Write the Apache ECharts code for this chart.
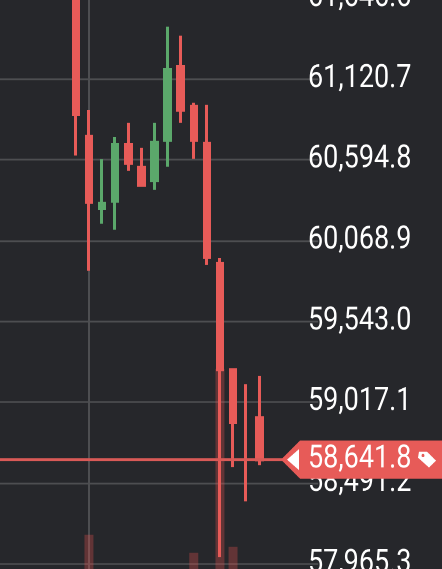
<!DOCTYPE html>
<html>
<head>
<meta charset="utf-8">
<style>
html,body{margin:0;padding:0;background:#26272b;overflow:hidden;width:442px;height:569px}
#c{width:442px;height:474.17px;transform:scaleY(1.2);transform-origin:0 0}
</style>
<script src="https://cdn.jsdelivr.net/npm/echarts@6/dist/echarts.min.js"></script>
</head>
<body>
<div id="c"></div>
<script>
var categories = ['c0','c1','c2','c3','c4','c5','c6','c7','c8','c9','c10','c11','c12','c13','c14','c15','c16','c17','c18','c19','c20','c21','c22','c23','c24'];
var opens  = [null,null,null,null,null,null,61750,60744.0,60278.7,60326.3,60691.9,60542.0,60461.2,60721.9,61200.2,60939.5,60698.4,59916.4,59225.6,58800,58912.7,null,null,null,null];
var closes = [null,null,null,null,null,null,60891.3,60317.8,60307.4,60691.9,60572.0,60428.6,60704.9,61180.7,60917.4,60721.9,59959.4,59229.5,58884.1,58800,58641.8,null,null,null,null];
var lows   = [null,null,null,null,null,null,60620.8,59871.4,60177.7,60138.6,60521.1,60416.9,60397.3,60549.2,60834.0,60599.3,59908.5,58007.5,58594.1,58370.5,58605.1,null,null,null,null];
var highs  = [null,null,null,null,null,null,61800,60918.7,60597.4,60742.7,60834.0,60671.0,60834.0,61459.6,61400.9,60964.3,60951.3,59954.2,59237.3,59133.0,59185.2,null,null,null,null];
var volumes = [0,0,0,0,0,0,0,34,0,0,0,0,0,0,0,16,0,200,22,0,0,0,0,0,0];
var priceMin = 57965.3, priceMax = 61646.6, priceStep = 525.9;
var lastPrice = 58641.8;
var lastIndex = 20;
var dojiIndex = 19;
var crossIndex = 7;

var RED = '#e75b58', GREEN = '#5ba86b', GRID = '#4d4e51';
var FONT = '27px Roboto';
var fmt = function (v) {
  return Number(v).toLocaleString('en-US', {minimumFractionDigits: 1, maximumFractionDigits: 1});
};
function ohlc(i) { return opens[i] == null ? '-' : [opens[i], closes[i], lows[i], highs[i]]; }
var mainData = categories.map(function (_, i) { return i === dojiIndex ? '-' : ohlc(i); });
var dojiData = categories.map(function (_, i) { return i === dojiIndex ? ohlc(i) : '-'; });
var candleStyle = {color: GREEN, color0: RED, borderColor: GREEN, borderColor0: RED, borderWidth: 3, opacity: 1};

var chart = echarts.init(document.getElementById('c'), null, {renderer: 'canvas', devicePixelRatio: 2});
chart.setOption({
  animation: false,
  backgroundColor: '#26272b',
  grid: [
    {left: -9.3, width: 327.5, top: -1.667, height: 471.25, outerBoundsMode: 'none'},
    {left: -9.3, width: 327.5, top: 0, bottom: 0, outerBoundsMode: 'none'}
  ],
  xAxis: [
    {type: 'category', data: categories, gridIndex: 0, show: false},
    {type: 'category', data: categories, gridIndex: 1, show: false}
  ],
  yAxis: [
    {type: 'value', gridIndex: 0, position: 'right', min: priceMin, max: priceMax, interval: priceStep,
     axisLine: {show: false}, axisTick: {show: false},
     splitLine: {show: true, lineStyle: {color: GRID, width: 1.5}},
     axisLabel: {show: true, inside: false, margin: -10.2, color: '#ffffff', fontFamily: 'Roboto', fontSize: 27,
                 align: 'left', showMinLabel: true, showMaxLabel: true, formatter: fmt}},
    {type: 'value', gridIndex: 1, min: 0, max: 569, show: false, splitLine: {show: false}}
  ],
  series: [
    {type: 'bar', name: 'Volume', xAxisIndex: 1, yAxisIndex: 1, data: volumes, barWidth: 9, z: 1, silent: true,
     itemStyle: {color: 'rgba(239,83,80,0.3)'},
     markLine: {silent: true, symbol: 'none', z: 0, label: {show: false},
                lineStyle: {color: GRID, width: 2, type: 'solid'},
                data: [{xAxis: categories[crossIndex]}]}},
    {type: 'candlestick', name: 'Price', xAxisIndex: 0, yAxisIndex: 0, data: mainData, barWidth: 6, z: 3, itemStyle: candleStyle},
    {type: 'candlestick', name: 'Doji', xAxisIndex: 0, yAxisIndex: 0, data: dojiData, barWidth: 1, z: 3, itemStyle: candleStyle},
    {type: 'custom', name: 'Last price', xAxisIndex: 0, yAxisIndex: 0, z: 10, silent: true, clip: false,
     data: [[lastIndex, lastPrice]],
     encode: {x: 0, y: 1},
     renderItem: function (params, api) {
       var y = api.coord([api.value(0), api.value(1)])[1];
       var d = function (px) { return y + px / 1.2; };
       return {type: 'group', children: [
         {type: 'line', shape: {x1: 0, y1: y, x2: 290, y2: y}, style: {stroke: '#d95a57', lineWidth: 2.4}},
         {type: 'polygon', shape: {points: [[281, y], [300, d(-19)], [442, d(-19)], [442, d(19)], [300, d(19)]]}, style: {fill: RED}},
         {type: 'polygon', shape: {points: [[287, y], [299, d(-10.5)], [299, d(10.5)]]}, style: {fill: '#ffffff'}},
         {type: 'text', style: {text: fmt(api.value(1)), x: 308, y: y, verticalAlign: 'middle', align: 'left', fill: '#ffffff', font: FONT}},
         {type: 'polygon', shape: {points: [[419, d(-8)], [427, d(-8)], [436, d(1)], [429, d(8)], [418, d(-2)]]}, style: {fill: '#ffffff'}},
         {type: 'circle', shape: {cx: 423, cy: d(-4), r: 1.4}, style: {fill: RED}}
       ]};
     }}
  ]
});
</script>
</body>
</html>
